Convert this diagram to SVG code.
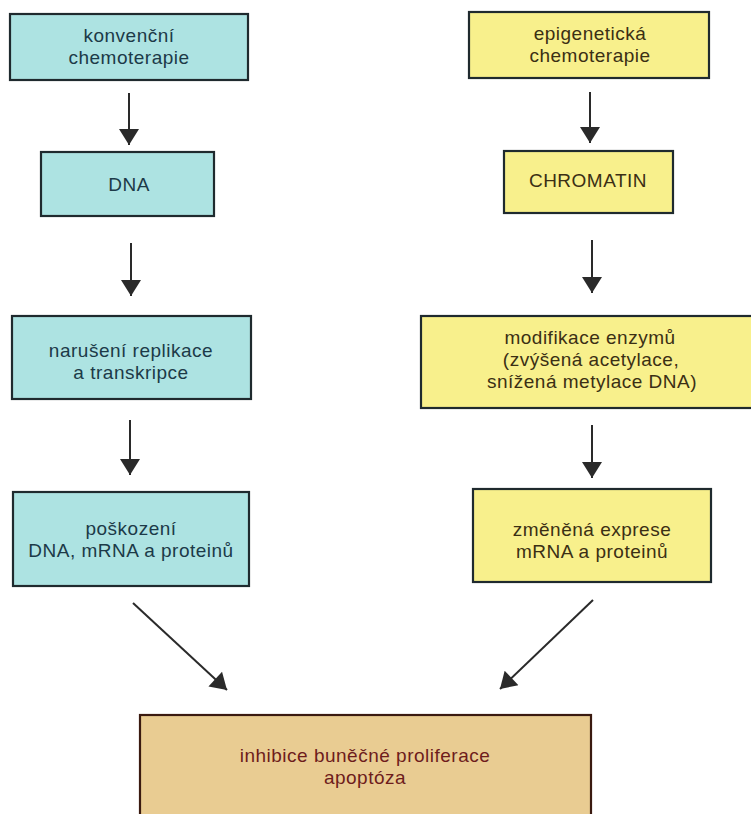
<svg xmlns="http://www.w3.org/2000/svg" width="751" height="814" viewBox="0 0 751 814">
<defs>
<marker id="ah" markerUnits="userSpaceOnUse" markerWidth="20" markerHeight="20" viewBox="0 0 16 20" refX="16" refY="10" orient="auto">
<path d="M0,0 L16,10 L0,20 Z" fill="#2a2a2a"/>
</marker>
<style>
.box{stroke:#1f2a2e;stroke-width:2.2}
.cy{fill:#ade3e2}
.ye{fill:#f8f08c}
.tan{fill:#e9cc92;stroke:#3a1a10}
text{font-family:"Liberation Sans",Arial,sans-serif;font-size:19px;letter-spacing:0.5px;text-anchor:middle}
.tc{fill:#1c3a48}
.ty{fill:#3b2f14}
.tt{fill:#6e1c1c}
.con line{stroke:#2a2a2a;stroke-width:2;marker-end:url(#ah)}
</style>
</defs>
<rect width="751" height="814" fill="#ffffff"/>
<g id="n1"><rect class="box cy" x="10" y="14" width="238" height="66"/><text class="tc" x="129" y="42">konvenční</text><text class="tc" x="129" y="64">chemoterapie</text></g>
<g id="n2"><rect class="box cy" x="41" y="152" width="173" height="64"/><text class="tc" x="129" y="191">DNA</text></g>
<g id="n3"><rect class="box cy" x="12" y="316" width="239" height="83"/><text class="tc" x="131" y="357">narušení replikace</text><text class="tc" x="131" y="379">a transkripce</text></g>
<g id="n4"><rect class="box cy" x="13" y="492" width="236" height="94"/><text class="tc" x="131" y="535">poškození</text><text class="tc" x="131" y="557">DNA, mRNA a proteinů</text></g>
<g id="n5"><rect class="box ye" x="469" y="12" width="240" height="66"/><text class="ty" x="590" y="40">epigenetická</text><text class="ty" x="590" y="62">chemoterapie</text></g>
<g id="n6"><rect class="box ye" x="504" y="151" width="169" height="62"/><text class="ty" x="588" y="187">CHROMATIN</text></g>
<g id="n7"><rect class="box ye" x="421" y="316" width="340" height="92"/><text class="ty" x="590" y="344">modifikace enzymů</text><text class="ty" x="591" y="366">(zvýšená acetylace,</text><text class="ty" x="592" y="388">snížená metylace DNA)</text></g>
<g id="n8"><rect class="box ye" x="473" y="489" width="238" height="93"/><text class="ty" x="592" y="536">změněná exprese</text><text class="ty" x="592" y="558">mRNA a proteinů</text></g>
<g id="n9"><rect class="box tan" x="140" y="715" width="451" height="110"/><text class="tt" x="365" y="762">inhibice buněčné proliferace</text><text class="tt" x="365" y="784">apoptóza</text></g>
<g id="connectors" class="con">
<line x1="129" y1="93" x2="129" y2="145"/>
<line x1="131" y1="243" x2="131" y2="296"/>
<line x1="130" y1="420" x2="130" y2="475"/>
<line x1="590" y1="92" x2="590" y2="143"/>
<line x1="592" y1="240" x2="592" y2="293"/>
<line x1="592" y1="425" x2="592" y2="478"/>
<line x1="133" y1="603" x2="227" y2="690"/>
<line x1="593" y1="600" x2="500" y2="689"/>
</g>
</svg>
